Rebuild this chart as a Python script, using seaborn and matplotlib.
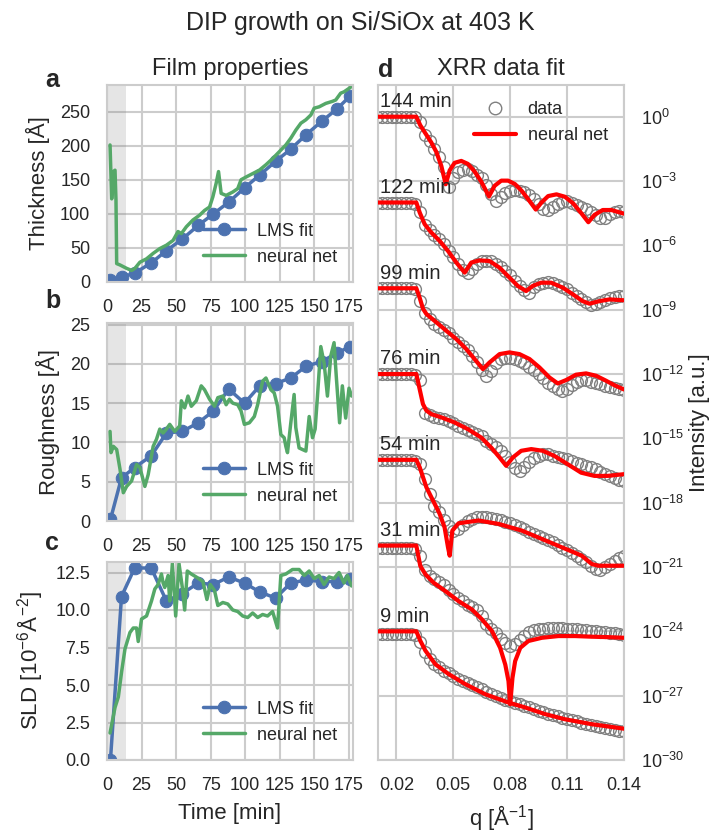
"""DIP growth on Si/SiOx: film properties (left) and XRR fits (right)."""
import numpy as np
import matplotlib
matplotlib.use("Agg")
import matplotlib.pyplot as plt
import matplotlib.ticker as mticker
from matplotlib.lines import Line2D
import seaborn as sns

# ── left column: LMS fit results ───────────────────────────────────────────
LMS_T = [2.5, 10.5, 20, 32, 43, 54.5, 66, 77, 88, 99.5, 110.5, 122, 133, 144, 155.5, 166.5, 176]
LMS_THICK = [3, 7, 13, 28, 46, 63, 83, 100, 117, 138, 157, 177, 195, 216, 236, 254, 273]
LMS_ROUGH = [0.2, 5.5, 6.8, 8.3, 11.2, 11.4, 12.5, 14.0, 16.8, 15.0, 17.2, 17.5, 18.2, 19.7, 20.3, 21.4, 22.2]
LMS_SLD = [0.0, 10.9, 12.8, 12.8, 10.6, 11.1, 11.8, 11.7, 12.2, 11.8, 11.2, 10.8, 11.8, 12.0, 11.9, 11.9, 12.1]

# ── left column: neural net predictions ────────────────────────────────────
NN_T_THICK = [2.2, 3.4, 4.6, 5.8, 6.5, 7.0, 9.4, 14.2, 17.8, 20.2, 23.8, 28.6, 33.4, 38.2, 43.0,
              47.8, 51.4, 53.8, 57.4, 62.2, 67.0, 70.6, 74.2, 76.6, 79.0, 80.7, 82.6, 86.2, 91.0,
              94.6, 97.0, 100.6, 105.4, 110.2, 115.0, 119.8, 124.6, 129.4, 133.0, 136.7, 140.3,
              143.9, 147.5, 149.9, 153.5, 158.3, 163.1, 165.5, 169.1, 171.5, 175.1, 177.0]
NN_THICK = [201, 122, 162, 164, 120, 27, 25, 20, 17, 20, 29, 34, 42, 49, 54, 61, 74, 71, 81, 91,
            98, 105, 110, 125, 145, 162, 130, 127, 132, 137, 150, 154, 159, 164, 172, 181, 191,
            201, 211, 223, 233, 238, 245, 255, 257, 262, 265, 267, 277, 279, 284, 287]

NN_T_ROUGH = [2.2, 2.9, 4.6, 7.0, 9.4, 11.8, 14.2, 17.8, 21.4, 23.8, 27.4, 29.8, 33.4, 35.8, 38.2,
              40.6, 43.0, 45.4, 49.0, 52.6, 53.8, 56.2, 58.6, 61.0, 64.6, 68.2, 70.6, 74.2, 77.8,
              80.2, 83.8, 86.2, 88.6, 91.0, 94.6, 97.0, 99.4, 103.0, 106.6, 109.0, 112.6, 115.0,
              118.6, 121.0, 123.4, 125.8, 128.2, 129.4, 130.6, 133.0, 135.4, 136.6, 139.0, 141.4,
              143.9, 146.3, 148.7, 150.6, 152.3, 154.7, 157.1, 159.5, 161.9, 164.3, 165.9, 168.3,
              170.3, 172.7, 175.1, 177.0]
NN_ROUGH = [11.4, 8.7, 9.5, 9.1, 6.6, 3.6, 4.4, 5.1, 7.2, 6.8, 4.4, 5.9, 9.5, 10.4, 11.7, 11.2,
            11.7, 12.3, 11.4, 12.1, 15.3, 14.4, 15.9, 14.6, 15.3, 17.2, 16.7, 15.5, 14.6, 15.7,
            15.9, 14.8, 15.5, 15.0, 14.8, 14.0, 12.3, 12.5, 13.3, 14.8, 17.8, 18.2, 16.7, 16.3,
            14.6, 11.0, 10.6, 9.5, 8.7, 12.5, 16.1, 11.9, 9.3, 9.1, 8.9, 13.3, 10.6, 11.7, 15.9,
            22.2, 20.1, 15.9, 21.0, 22.7, 18.4, 12.5, 17.2, 13.1, 16.9, 15.9]

NN_T_SLD = [2.2, 5.8, 8.2, 10.6, 13.0, 16.6, 19.0, 21.4, 22.6, 25.0, 28.6, 32.2, 34.6, 37.0, 39.4,
            40.6, 41.8, 44.2, 45.4, 47.3, 49.7, 52.1, 54.5, 56.2, 58.1, 61.0, 64.6, 69.4, 72.3,
            74.7, 77.8, 80.2, 83.8, 87.4, 91.0, 94.6, 98.2, 101.8, 105.4, 109.0, 112.6, 116.2,
            119.8, 123.4, 125.8, 129.4, 134.2, 139.0, 142.7, 146.3, 149.9, 153.5, 157.1, 160.7,
            164.3, 167.9, 171.5, 173.9, 177.0]
NN_SLD = [1.8, 3.5, 4.2, 5.9, 7.4, 8.5, 8.8, 8.8, 7.9, 9.4, 9.6, 10.6, 11.4, 11.7, 12.4, 11.8,
          11.5, 12.3, 10.6, 13.1, 9.6, 13.1, 11.5, 10.0, 12.6, 12.4, 12.2, 11.9, 10.7, 11.7, 11.3,
          10.3, 10.5, 10.4, 10.0, 9.9, 9.6, 9.5, 9.8, 9.5, 9.7, 9.6, 9.9, 8.8, 12.3, 12.4, 12.7,
          12.7, 12.3, 12.6, 12.1, 12.3, 11.7, 12.2, 12.1, 12.5, 11.8, 12.3, 11.6]

# ── right column: XRR curves, log10 intensity relative to the plateau ─────
XRR_LABELS = ["144 min", "122 min", "99 min", "76 min", "54 min", "31 min", "9 min"]
XRR_OFFSETS = [0, -4, -8, -12, -16, -20, -24]

Q_DATA = [0.0100, 0.0125, 0.0150, 0.0175, 0.0200, 0.0225, 0.0250, 0.0275, 0.0300, 0.0325,
          0.0350, 0.0375, 0.0400, 0.0425, 0.0450, 0.0475, 0.0500, 0.0525, 0.0550, 0.0575,
          0.0600, 0.0625, 0.0650, 0.0675, 0.0700, 0.0725, 0.0750, 0.0775, 0.0800, 0.0825,
          0.0850, 0.0875, 0.0900, 0.0925, 0.0950, 0.0975, 0.1000, 0.1025, 0.1050, 0.1075,
          0.1100, 0.1125, 0.1150, 0.1175, 0.1200, 0.1225, 0.1250, 0.1275, 0.1300, 0.1325,
          0.1350, 0.1375, 0.1400]

DATA_144 = [0, 0, 0, 0, 0, 0, 0, 0, -0.02, -0.25, -0.85, -1.15, -1.5, -1.9, -2.35, -3.3, -2.85,
            -2.6, -2.5, -2.45, -2.55, -2.7, -2.88, -3.2, -3.6, -3.95, -3.75, -3.55, -3.45, -3.4,
            -3.45, -3.5, -3.65, -3.85, -4.05, -4.3, -4.35, -4.2, -4.05, -3.97, -3.95, -4.0, -4.1,
            -4.2, -4.3, -4.45, -4.6, -4.72, -4.7, -4.55, -4.42, -4.4, -4.45]
DATA_122 = [0, 0, 0, 0, 0, 0, 0, 0, -0.05, -0.45, -1.05, -1.3, -1.5, -1.7, -1.95, -2.25, -2.55,
            -2.85, -3.15, -3.3, -3.1, -2.85, -2.75, -2.72, -2.75, -2.85, -3.0, -3.2, -3.4, -3.65,
            -3.9, -4.1, -4.2, -3.95, -3.8, -3.75, -3.72, -3.75, -3.85, -3.95, -4.05, -4.2, -4.35,
            -4.5, -4.65, -4.8, -4.75, -4.65, -4.55, -4.45, -4.4, -4.35, -4.35]
DATA_99 = [0, 0, 0, 0, 0, 0, 0, 0, -0.05, -0.6, -1.15, -1.45, -1.65, -1.8, -1.95, -2.1, -2.3,
           -2.5, -2.7, -2.9, -3.15, -3.45, -3.8, -4.1, -3.85, -3.5, -3.3, -3.25, -3.25, -3.3,
           -3.4, -3.5, -3.65, -3.8, -4.0, -4.2, -4.4, -4.55, -4.7, -4.8, -4.7, -4.5, -4.35, -4.3,
           -4.3, -4.35, -4.4, -4.45, -4.55, -4.6, -4.65, -4.7, -4.75]
DATA_76 = [0, 0, 0, 0, 0, 0, 0, 0, -0.05, -0.3, -1.8, -1.92, -2.0, -2.05, -2.12, -2.2, -2.3,
           -2.4, -2.5, -2.6, -2.7, -2.8, -2.9, -3.1, -3.25, -3.4, -3.6, -3.8, -4.1, -4.4, -4.5,
           -4.35, -4.1, -3.9, -3.8, -3.75, -3.75, -3.8, -3.85, -3.9, -3.95, -4.05, -4.15, -4.2,
           -4.3, -4.35, -4.45, -4.55, -4.65, -4.75, -4.85, -4.95, -5.0]
DATA_54 = [0, 0, 0, 0, 0, 0, 0, 0, -0.05, -0.2, -0.9, -1.6, -2.15, -2.45, -2.8, -3.1, -3.3,
           -3.25, -3.05, -2.85, -2.75, -2.68, -2.65, -2.65, -2.7, -2.75, -2.8, -2.88, -2.95,
           -3.05, -3.15, -3.25, -3.35, -3.45, -3.55, -3.65, -3.75, -3.85, -3.97, -4.1, -4.22,
           -4.35, -4.48, -4.62, -4.78, -4.95, -5.1, -5.15, -5.0, -4.85, -4.7, -4.6, -4.5]
DATA_31 = [-0.1, -0.1, -0.1, -0.1, -0.1, -0.1, -0.1, -0.1, -0.15, -0.5, -1.15, -1.4, -1.58, -1.7,
           -1.85, -2.05, -2.25, -2.45, -2.6, -2.75, -2.85, -3.0, -3.3, -3.65, -3.9, -4.1, -4.35,
           -4.55, -4.7, -4.6, -4.4, -4.2, -4.05, -3.95, -3.9, -3.88, -3.86, -3.85, -3.85, -3.85,
           -3.87, -3.9, -3.9, -3.93, -3.95, -3.98, -4.0, -4.02, -4.05, -4.07, -4.1, -4.12, -4.15]
DATA_9 = [-0.12, -0.12, -0.12, -0.12, -0.12, -0.12, -0.12, -0.12, -0.15, -0.5, -0.95, -1.3, -1.5,
          -1.68, -1.83, -1.95, -2.1, -2.2, -2.3, -2.4, -2.5, -2.6, -2.7, -2.82, -2.93, -3.01,
          -3.1, -3.18, -3.25, -3.32, -3.4, -3.47, -3.55, -3.62, -3.7, -3.77, -3.84, -3.91, -3.97,
          -4.03, -4.09, -4.15, -4.2, -4.26, -4.31, -4.36, -4.41, -4.46, -4.5, -4.55, -4.59,
          -4.63, -4.67]

FIT_Q_144 = [0.0100, 0.0305, 0.0326, 0.0349, 0.0384, 0.0411, 0.0437, 0.0460, 0.0481, 0.0507,
             0.0542, 0.0577, 0.0612, 0.0647, 0.0688, 0.0718, 0.0753, 0.0789, 0.0825, 0.0860,
             0.0895, 0.0935, 0.0965, 0.1000, 0.1044, 0.1088, 0.1132, 0.1175, 0.1212, 0.1244,
             0.1288, 0.1333, 0.1400]
FIT_144 = [0.0, 0.0, -0.40, -0.72, -1.20, -1.65, -2.30, -3.15, -2.50, -2.15, -2.06, -2.20, -2.55,
           -3.02, -3.72, -3.22, -2.98, -2.98, -3.14, -3.45, -3.85, -4.33, -4.00, -3.70, -3.62,
           -3.73, -4.04, -4.50, -4.92, -4.58, -4.35, -4.35, -4.52]
FIT_Q_122 = [0.0100, 0.0305, 0.0323, 0.0349, 0.0384, 0.0428, 0.0472, 0.0516, 0.0560, 0.0595,
             0.0639, 0.0691, 0.0744, 0.0796, 0.0840, 0.0884, 0.0919, 0.0963, 0.1016, 0.1077,
             0.1130, 0.1182, 0.1218, 0.1270, 0.1323, 0.1400]
FIT_122 = [0.0, 0.0, -0.47, -1.01, -1.40, -1.79, -2.26, -2.80, -3.27, -2.80, -2.70, -2.73, -3.04,
           -3.50, -3.89, -4.13, -3.89, -3.74, -3.74, -3.97, -4.28, -4.60, -4.72, -4.60, -4.52,
           -4.56]
FIT_Q_99 = [0.0100, 0.0305, 0.0323, 0.0340, 0.0358, 0.0411, 0.0463, 0.0516, 0.0568, 0.0612,
            0.0656, 0.0691, 0.0744, 0.0796, 0.0849, 0.0902, 0.0954, 0.1007, 0.1051, 0.1095,
            0.1147, 0.1200, 0.1253, 0.1305, 0.1349, 0.1400]
FIT_99 = [0.0, 0.0, -0.45, -0.95, -1.20, -1.59, -1.98, -2.37, -2.83, -3.30, -3.77, -3.46, -3.07,
          -2.99, -3.07, -3.30, -3.69, -4.16, -4.44, -4.28, -4.03, -3.97, -4.08, -4.31, -4.52,
          -4.72]
FIT_Q_76 = [0.0100, 0.0305, 0.0340, 0.0358, 0.0384, 0.0437, 0.0507, 0.0577, 0.0647, 0.0700,
            0.0744, 0.0779, 0.0814, 0.0858, 0.0911, 0.0972, 0.1033, 0.1104, 0.1174, 0.1244,
            0.1314, 0.1400]
FIT_76 = [0.0, 0.0, -1.40, -1.70, -1.87, -2.02, -2.26, -2.57, -2.96, -3.43, -3.89, -4.28, -3.89,
          -3.58, -3.50, -3.58, -3.82, -4.21, -4.60, -4.75, -4.75, -4.67]
FIT_Q_54 = [0.0100, 0.0305, 0.0323, 0.0358, 0.0393, 0.0428, 0.0454, 0.0472, 0.0481, 0.0495,
            0.0528, 0.0633, 0.0739, 0.0861, 0.0967, 0.1072, 0.1177, 0.1230, 0.1265, 0.1400]
FIT_54 = [0.0, 0.0, -0.35, -1.28, -1.90, -2.52, -3.15, -4.08, -4.47, -3.30, -2.96, -2.83, -2.99,
          -3.30, -3.69, -4.08, -4.47, -4.86, -4.94, -4.94]
FIT_Q_31 = [0.0100, 0.0305, 0.0326, 0.0353, 0.0396, 0.0458, 0.0528, 0.0598, 0.0651, 0.0704,
            0.0747, 0.0774, 0.0791, 0.0800, 0.0812, 0.0826, 0.0853, 0.0896, 0.0967, 0.1054,
            0.1142, 0.1230, 0.1318, 0.1400]
FIT_31 = [0.0, 0.0, -0.95, -1.34, -1.73, -2.12, -2.59, -2.98, -3.44, -3.99, -4.77, -5.55, -6.32,
          -7.40, -6.17, -5.39, -4.77, -4.45, -4.30, -4.22, -4.22, -4.25, -4.27, -4.30]
FIT_Q_9 = [0.0100, 0.0305, 0.0326, 0.0353, 0.0405, 0.0475, 0.0563, 0.0668, 0.0791, 0.0879,
           0.0984, 0.1089, 0.1230, 0.1400]
FIT_9 = [0.0, 0.0, -0.44, -0.90, -1.53, -1.99, -2.46, -2.93, -3.32, -3.55, -3.86, -4.10, -4.33,
         -4.54]

BLUE = "#4C72B0"
GREEN = "#55A868"

sns.set_theme(style="whitegrid")
plt.rcParams.update({
    "font.family": ["Liberation Sans", "DejaVu Sans"],
    "mathtext.fontset": "custom",
    "mathtext.rm": "Liberation Sans",
    "mathtext.it": "Liberation Sans:italic",
    "mathtext.default": "regular",
    "axes.edgecolor": ".8",
    "axes.linewidth": 1.5,
    "grid.color": ".8",
    "grid.linewidth": 1.5,
    "xtick.labelsize": 13,
    "ytick.labelsize": 13,
    "xtick.major.size": 0,
    "ytick.major.size": 0,
    "xtick.major.pad": 12,
    "ytick.major.pad": 12,
    "axes.labelsize": 16,
    "axes.labelpad": 7,
    "axes.titlesize": 17,
    "legend.fontsize": 13,
})

W, H = 720, 831
fig = plt.figure(figsize=(W / 100, H / 100), dpi=100)


def px_axes(left, top, right, bottom):
    return fig.add_axes([left / W, 1 - bottom / H, (right - left) / W, (bottom - top) / H])


ax_a = px_axes(107, 85, 353, 282)
ax_b = px_axes(107, 323, 353, 521)
ax_c = px_axes(107, 562, 353, 760)
ax_d = px_axes(378, 85, 624, 760)

left_panels = [
    (ax_a, LMS_THICK, NN_T_THICK, NN_THICK, "Thickness [Å]", 289, [0, 50, 100, 150, 200, 250]),
    (ax_b, LMS_ROUGH, NN_T_ROUGH, NN_ROUGH, "Roughness [Å]", 25.2, [0, 5, 10, 15, 20, 25]),
    (ax_c, LMS_SLD, NN_T_SLD, NN_SLD, "SLD [$10^{-6}$Å$^{-2}$]", 13.2,
     [0.0, 2.5, 5.0, 7.5, 10.0, 12.5]),
]
for ax, lms, nn_t, nn, ylabel, ytop, yticks in left_panels:
    ax.axvspan(0, 13.7, color="0.5", alpha=0.2, lw=0)
    sns.lineplot(x=LMS_T, y=lms, ax=ax, color=BLUE, lw=2.5, marker="o", markersize=9,
                 markeredgecolor=BLUE, estimator=None, sort=False, label="LMS fit")
    sns.lineplot(x=nn_t, y=nn, ax=ax, color=GREEN, lw=2.5, estimator=None, sort=False,
                 label="neural net")
    ax.set_xlim(0, 178)
    ax.set_ylim(0, ytop)
    ax.set_xticks([0, 25, 50, 75, 100, 125, 150, 175])
    ax.set_yticks(yticks)
    ax.set_ylabel(ylabel)
    ax.tick_params(length=0)
    ax.legend(loc="lower right", frameon=False, handlelength=2.3, handletextpad=0.65)
ax_c.yaxis.set_major_formatter(mticker.FormatStrFormatter("%.1f"))
ax_c.set_xlabel("Time [min]")
ax_a.set_title("Film properties", pad=7)

# ── XRR panel ─────────────────────────────────────────────────────────────
ax_d.set_yscale("log")
curves = [
    (DATA_144, FIT_Q_144, FIT_144), (DATA_122, FIT_Q_122, FIT_122),
    (DATA_99, FIT_Q_99, FIT_99), (DATA_76, FIT_Q_76, FIT_76),
    (DATA_54, FIT_Q_54, FIT_54), (DATA_31, FIT_Q_31, FIT_31),
    (DATA_9, FIT_Q_9, FIT_9),
]
for label, off, (data, fit_q, fit) in zip(XRR_LABELS, XRR_OFFSETS, curves):
    sns.lineplot(x=Q_DATA, y=10.0 ** (np.array(data) + off), ax=ax_d, linestyle="",
                 marker="o", markersize=8.5, markerfacecolor="none", markeredgecolor="0.5",
                 markeredgewidth=1.0, estimator=None, sort=False, zorder=2)
    sns.lineplot(x=fit_q, y=10.0 ** (np.array(fit) + off), ax=ax_d, color="red", lw=3,
                 estimator=None, sort=False, zorder=3)
    ax_d.text(0.0112, 10.0 ** (off + 0.45), label, fontsize=14.5, ha="left", va="baseline")

ax_d.set_xlim(0.0103, 0.14)
ax_d.set_ylim(1e-30, 10 ** 1.48)
ax_d.set_xticks([0.02, 0.05, 0.08, 0.11, 0.14])
ax_d.xaxis.set_major_formatter(mticker.FormatStrFormatter("%.2f"))
ax_d.yaxis.set_major_locator(mticker.FixedLocator([10.0 ** e for e in range(-30, 1, 3)]))
ax_d.yaxis.set_minor_locator(mticker.NullLocator())
ax_d.yaxis.set_major_formatter(mticker.LogFormatterMathtext())
ax_d.yaxis.tick_right()
ax_d.yaxis.set_label_position("right")
ax_d.tick_params(which="both", length=0)
ax_d.set_ylabel("Intensity [a.u.]", labelpad=4)
ax_d.set_xlabel("q [Å$^{-1}$]")
ax_d.set_title("XRR data fit", pad=7)
handles = [
    Line2D([], [], ls="", marker="o", ms=9, mfc="none", mec="0.5", mew=1.0),
    Line2D([], [], color="red", lw=3),
]
ax_d.legend(handles, ["data", "neural net"], loc="upper right", frameon=False,
            handlelength=2.3, handletextpad=0.65)

fig.text(0.5, 1 - 30 / H, "DIP growth on Si/SiOx at 403 K", ha="center", va="baseline",
         fontsize=18)
for letter, x, y in [("a", 45, 87), ("b", 45, 308), ("c", 45, 550), ("d", 378, 77)]:
    fig.text(x / W, 1 - y / H, letter, fontsize=18, fontweight="bold", va="baseline")

fig.savefig("out.png", dpi=100)
